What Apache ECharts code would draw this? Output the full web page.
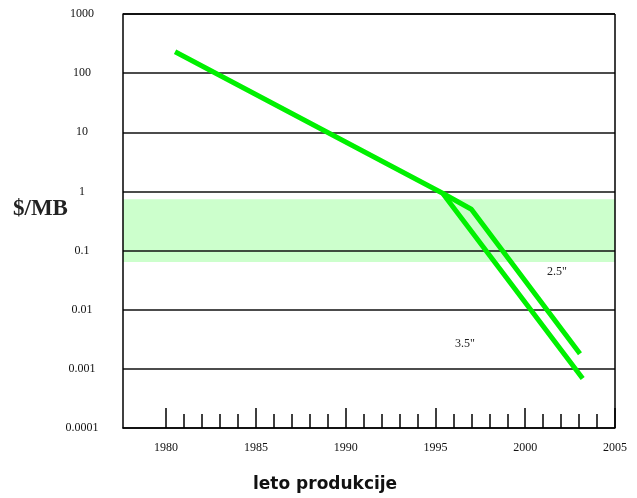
<!DOCTYPE html>
<html>
<head>
<meta charset="utf-8">
<script src="https://cdn.jsdelivr.net/npm/echarts@6/dist/echarts.min.js"></script>
<style>
html,body{margin:0;padding:0;background:#fff;}
#chart{width:637px;height:498px;}
</style>
</head>
<body>
<div id="chart"></div>
<script>
// ---- data ----
var yTickLabels = ['0.0001', '0.001', '0.01', '0.1', '1', '10', '100', '1000'];
var majorYears = [1980, 1985, 1990, 1995, 2000, 2005];
var allYears = [1980,1981,1982,1983,1984,1985,1986,1987,1988,1989,1990,1991,1992,1993,1994,1995,1996,1997,1998,1999,2000,2001,2002,2003,2004];
var years35 = [1980.5, 1995.4, 2003.2];
var values35 = [230, 0.93, 0.00069];
var years25 = [1995.4, 1997.0, 2003.05];
var values25 = [0.93, 0.5, 0.0018];
var bandRange = [0.064, 0.74];
var labels = {s25: '2.5"', s35: '3.5"', yName: '$/MB', xName: 'leto produkcije'};

function pairs(xs, ys) { return xs.map(function (x, i) { return [x, ys[i]]; }); }

var chart = echarts.init(document.getElementById('chart'), null, {renderer: 'canvas'});
var serif = '"Liberation Serif", "Times New Roman", serif';
var lineColor = '#00f000';

chart.setOption({
  animation: false,
  backgroundColor: '#fff',
  grid: {left: 123, right: 22, top: 14, bottom: 70, show: false},
  xAxis: [{
    type: 'value', min: 1977.6, max: 2005, z: 3,
    axisLine: {show: true, lineStyle: {color: '#000', width: 1.5}},
    splitLine: {show: false},
    axisTick: {show: true, inside: true, length: 20, customValues: majorYears, lineStyle: {color: '#000', width: 1.5}},
    axisLabel: {show: true, customValues: majorYears, margin: 14, fontFamily: serif, fontSize: 12, color: '#111',
      formatter: function (v) { return String(Math.round(v)); }}
  }, {
    type: 'value', min: 1977.6, max: 2005, position: 'bottom', z: 3,
    axisLine: {show: false}, splitLine: {show: false},
    axisTick: {show: true, inside: true, length: 14, customValues: allYears, lineStyle: {color: '#000', width: 1.5}},
    axisLabel: {show: false}
  }],
  yAxis: {
    type: 'log', logBase: 10, min: 0.0001, max: 1000, z: 3,
    axisLine: {show: true, lineStyle: {color: '#000', width: 1.5}},
    axisTick: {show: false},
    splitLine: {show: true, lineStyle: {color: '#111', width: 1.5}},
    axisLabel: {align: 'center', margin: 41, fontFamily: serif, fontSize: 12, color: '#111',
      formatter: function (v) { var i = Math.round(Math.log10(v)) + 4; return yTickLabels[i] || ''; }}
  },
  series: [{
    type: 'line', data: [], z: 1, silent: true,
    markArea: {silent: true, itemStyle: {color: '#ccffcc'}, data: [[{yAxis: bandRange[0]}, {yAxis: bandRange[1]}]]}
  }, {
    type: 'line', name: '3.5', z: 5, symbol: 'none', data: pairs(years35, values35),
    lineStyle: {color: lineColor, width: 5}
  }, {
    type: 'line', name: '2.5', z: 5, symbol: 'none', data: pairs(years25, values25),
    lineStyle: {color: lineColor, width: 5}
  }],
  graphic: [
    {type: 'rect', z: 10, shape: {x: 615, y: 14, width: 0, height: 414}, style: {stroke: '#000', lineWidth: 1.5, fill: null}},
    {type: 'rect', z: 10, shape: {x: 123, y: 14, width: 492, height: 0}, style: {stroke: '#000', lineWidth: 1.5, fill: null}},
    {type: 'text', left: 13, top: 198, z: 10, style: {text: labels.yName, font: 'bold 23px ' + serif, fill: '#222'}},
    {type: 'text', left: 253, top: 476, z: 10, style: {text: labels.xName, font: 'bold 17px "DejaVu Sans", sans-serif', fill: '#111'}},
    {type: 'text', left: 547, top: 266, z: 10, style: {text: labels.s25, font: '12px ' + serif, fill: '#222'}},
    {type: 'text', left: 455, top: 338, z: 10, style: {text: labels.s35, font: '12px ' + serif, fill: '#222'}}
  ]
});
</script>
</body>
</html>
